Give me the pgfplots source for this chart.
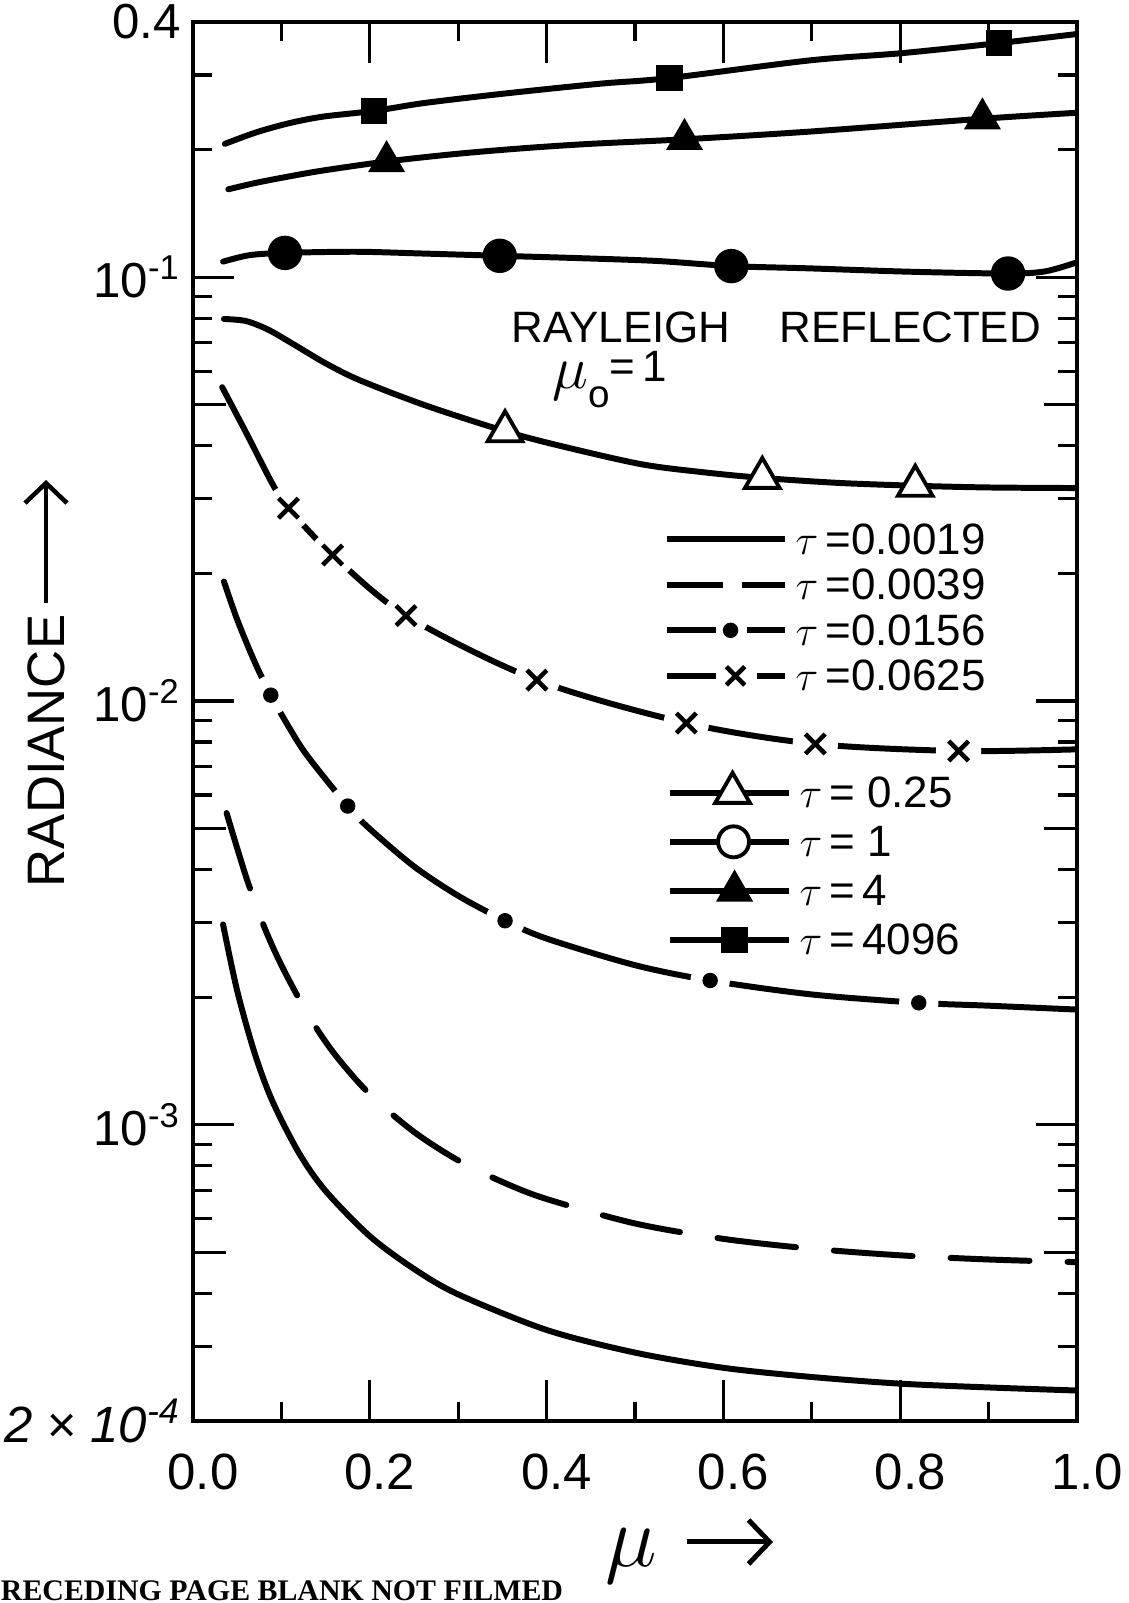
\documentclass[border=0pt]{standalone}
\usepackage{fontspec}
\setmainfont{Liberation Sans}
\newfontfamily\notefont{Liberation Serif}
\usepackage{pgfplots}
\pgfplotsset{compat=1.18}
\usetikzlibrary{arrows.meta}

\pgfplotsset{
  radcurve/.style={line width=1.7pt, line cap=round, smooth, forget plot},
}

\begin{document}
\begin{tikzpicture}
\useasboundingbox (0,0) rectangle (112.8mm,160.3mm);

\begin{axis}[
  at={(19.3mm,18.2mm)}, anchor=south west,
  scale only axis, width=88.4mm, height=139.9mm,
  xmin=0, xmax=1, ymin=2e-4, ymax=0.4, ymode=log,
  legend style={at={(0.5323,0.6438)}, anchor=north west, draw=none, fill=none,
    inner sep=0pt, outer sep=0pt, column sep=0.8mm, row sep=0.75mm,
    font=\fontsize{12.5}{12.5}\selectfont,
    nodes={inner sep=0pt, text height=3.4mm, text depth=0.4mm}},
  legend cell align=left,
  axis line style={line width=1.3pt},
  tick align=inside,
  major tick length=4.1mm, minor tick length=1.9mm,
  every tick/.style={black, line width=0.9pt},
  xtick={0,0.2,0.4,0.6,0.8,1},
  xticklabels={0.0,0.2,0.4,0.6,0.8,1.0},
  minor xtick={0.1,0.3,0.5,0.7,0.9},
  ytick={1e-3,1e-2,1e-1},
  yticklabels={10\textsuperscript{-3},10\textsuperscript{-2},10\textsuperscript{-1}},
  minor ytick={3e-4,4e-4,6e-4,7e-4,8e-4,9e-4,
               2e-3,3e-3,4e-3,6e-3,7e-3,8e-3,9e-3,
               2e-2,3e-2,4e-2,6e-2,7e-2,8e-2,9e-2,0.2,0.3},
  extra y ticks={5e-4,5e-3,5e-2,2e-4,0.4},
  extra y tick labels={,,,{\fontsize{14.5}{14.5}\selectfont\itshape 2 × 10\textsuperscript{-4}},0.4},
  extra y tick style={major tick length=3.3mm},
  xticklabel style={font=\fontsize{14.5}{14.5}\selectfont, yshift=-2.0mm, xshift=1mm},
  yticklabel style={font=\fontsize{14}{14}\selectfont},
]

% tau = 0.0019
\addplot[radcurve] coordinates {
 (0.034,0.00297) (0.050,0.00207) (0.070,0.00147) (0.090,0.001135)
 (0.120,0.000857) (0.150,0.000698) (0.200,0.000546) (0.250,0.000457)
 (0.300,0.000398) (0.400,0.000328) (0.500,0.000290) (0.600,0.000267)
 (0.700,0.000254) (0.800,0.000245) (0.900,0.000240) (1.000,0.000236)};

% tau = 0.0039
\addplot[radcurve, dash pattern=on 7.9mm off 3.8mm] coordinates {
 (0.038,0.00544) (0.060,0.00385) (0.080,0.00295) (0.100,0.00238)
 (0.130,0.00182) (0.160,0.00147) (0.200,0.00118) (0.250,0.000962)
 (0.300,0.000824) (0.350,0.000733) (0.400,0.000668) (0.500,0.000585)
 (0.600,0.000538) (0.700,0.000510) (0.800,0.000492) (0.900,0.000481)
 (1.000,0.000474)};

% tau = 0.0156
\addplot[radcurve] coordinates {
 (0.035,0.01914) (0.050,0.01556) (0.070,0.01233) (0.088,0.01032)
 (0.110,0.00857) (0.130,0.00739) (0.175,0.00565) (0.200,0.00499)
 (0.250,0.00407) (0.300,0.00347) (0.353,0.00303) (0.400,0.00275)
 (0.500,0.00238) (0.585,0.00219) (0.700,0.00203) (0.821,0.00194)
 (0.900,0.00191) (1.000,0.00187)};
\addplot[only marks, mark=*, mark size=1.9mm, white, forget plot] coordinates {
 (0.088,0.01032) (0.175,0.00565) (0.353,0.00303) (0.585,0.00219) (0.821,0.00194)};
\addplot[only marks, mark=*, mark size=0.7mm, black, forget plot] coordinates {
 (0.088,0.01032) (0.175,0.00565) (0.353,0.00303) (0.585,0.00219) (0.821,0.00194)};

% tau = 0.0625
\addplot[radcurve] coordinates {
 (0.033,0.0550) (0.061,0.0426) (0.090,0.0325) (0.108,0.0285)
 (0.158,0.0221) (0.241,0.0159) (0.389,0.0112) (0.558,0.00887)
 (0.704,0.00792) (0.866,0.00762) (1.000,0.00769)};
\addplot[only marks, mark=*, mark size=2.2mm, white, forget plot] coordinates {
 (0.108,0.0285) (0.158,0.0221) (0.241,0.0159) (0.389,0.0112)
 (0.558,0.00887) (0.704,0.00792) (0.866,0.00762)};
\addplot[only marks, mark=x, mark size=1.4mm, black, mark options={line width=1.3pt}, forget plot] coordinates {
 (0.108,0.0285) (0.158,0.0221) (0.241,0.0159) (0.389,0.0112)
 (0.558,0.00887) (0.704,0.00792) (0.866,0.00762)};

% tau = 0.25
\addplot[radcurve] coordinates {
 (0.035,0.0797) (0.060,0.0788) (0.085,0.0752) (0.112,0.0698)
 (0.149,0.0628) (0.188,0.0572) (0.262,0.0499) (0.353,0.0433)
 (0.413,0.0401) (0.507,0.0362) (0.580,0.0346) (0.644,0.0336)
 (0.730,0.0327) (0.817,0.0322) (0.900,0.0319) (1.000,0.0318)};
\addplot[only marks, mark=triangle*, mark size=2mm, black, mark options={fill=white, line width=1.1pt}, forget plot] coordinates {
 (0.353,0.0433) (0.644,0.0336) (0.817,0.0322)};

% tau = 1
\addplot[radcurve] coordinates {
 (0.034,0.1088) (0.064,0.1127) (0.104,0.1141) (0.185,0.1148)
 (0.260,0.1137) (0.347,0.1123) (0.430,0.1110) (0.525,0.1092)
 (0.609,0.1062) (0.697,0.1049) (0.811,0.1030) (0.922,0.1020)
 (0.964,0.1032) (1.000,0.1084)};
\addplot[only marks, mark=*, mark size=1.65mm, black, forget plot] coordinates {
 (0.104,0.1141) (0.347,0.1123) (0.609,0.1062) (0.922,0.1020)};

% tau = 4
\addplot[radcurve] coordinates {
 (0.040,0.1612) (0.072,0.1671) (0.109,0.1729) (0.147,0.1785)
 (0.219,0.1875) (0.298,0.1954) (0.374,0.2015) (0.449,0.2063)
 (0.556,0.2115) (0.697,0.2205) (0.893,0.2365) (1.000,0.2443)};
\addplot[only marks, mark=triangle*, mark size=2mm, black, forget plot] coordinates {
 (0.219,0.1875) (0.556,0.2115) (0.893,0.2365)};

% tau = 4096
\addplot[radcurve] coordinates {
 (0.036,0.2063) (0.072,0.2198) (0.109,0.2309) (0.147,0.2392)
 (0.205,0.2468) (0.260,0.2573) (0.336,0.2688) (0.411,0.2794)
 (0.468,0.2870) (0.539,0.2950) (0.697,0.3246) (0.802,0.3378)
 (0.912,0.3568) (1.000,0.3748)};
\addplot[only marks, mark=square*, mark size=1.25mm, black, forget plot] coordinates {
 (0.205,0.2468) (0.539,0.2950) (0.912,0.3568)};

% key, first group
\addlegendimage{black, legend image code/.code={
  \draw[black, line width=1.7pt] (0mm,0mm) -- (11.8mm,0mm);}}
\addlegendentry{$\tau$\,=0.0019}
\addlegendimage{black, legend image code/.code={
  \draw[black, line width=1.7pt] (0mm,0mm) -- (5.6mm,0mm) (7.5mm,0mm) -- (11.8mm,0mm);}}
\addlegendentry{$\tau$\,=0.0039}
\addlegendimage{black, legend image code/.code={
  \draw[black, line width=1.7pt] (0mm,0mm) -- (4.9mm,0mm) (8mm,0mm) -- (11.8mm,0mm);
  \fill[black, overlay] (6.4mm,0mm) circle[radius=0.7mm];}}
\addlegendentry{$\tau$\,=0.0156}
\addlegendimage{black, legend image code/.code={
  \draw[black, line width=1.7pt] (0mm,0mm) -- (4.9mm,0mm) (9mm,0mm) -- (11.8mm,0mm);
  \draw[black, line width=1.3pt, overlay] plot[mark=x, mark size=1.3mm] coordinates {(6.9mm,0mm)};}}
\addlegendentry{$\tau$\,=0.0625}
\end{axis}

% key, second group
\begin{axis}[
  at={(19.3mm,18.2mm)}, anchor=south west,
  scale only axis, width=88.4mm, height=139.9mm,
  xmin=0, xmax=1, ymin=2e-4, ymax=0.4, ymode=log,
  hide axis,
  legend style={at={(0.5357,0.4626)}, anchor=north west, draw=none, fill=none,
    inner sep=0pt, outer sep=0pt, column sep=0.8mm, row sep=1.1mm,
    font=\fontsize{12.5}{12.5}\selectfont,
    nodes={inner sep=0pt, text height=3.4mm, text depth=0.4mm}},
  legend cell align=left,
]
\addlegendimage{black, legend image code/.code={
  \draw[black, line width=1.7pt] (0mm,0mm) -- (11.9mm,0mm);
  \draw[black, line width=1.1pt, overlay] plot[mark=triangle*, mark size=2mm, mark options={fill=white}] coordinates {(6.3mm,0mm)};}}
\addlegendentry{$\tau$\,= 0.25}
\addlegendimage{black, legend image code/.code={
  \draw[black, line width=1.7pt] (0mm,0mm) -- (11.9mm,0mm);
  \draw[black, line width=1.1pt, overlay] plot[mark=*, mark size=1.55mm, mark options={fill=white}] coordinates {(6.4mm,0mm)};}}
\addlegendentry{$\tau$\,= 1}
\addlegendimage{black, legend image code/.code={
  \draw[black, line width=1.7pt] (0mm,0mm) -- (11.9mm,0mm);
  \draw[black, overlay] plot[mark=triangle*, mark size=2mm] coordinates {(6.5mm,0mm)};}}
\addlegendentry{$\tau$\,=\,4}
\addlegendimage{black, legend image code/.code={
  \draw[black, line width=1.7pt] (0mm,0mm) -- (11.9mm,0mm);
  \draw[black, overlay] plot[mark=square*, mark size=1.25mm] coordinates {(6.5mm,0mm)};}}
\addlegendentry{$\tau$\,=\,4096}
\end{axis}

% annotations
\node[anchor=base west, inner sep=0pt, font=\fontsize{12.5}{12.5}\selectfont] at (51.1mm,126.0mm) {RAYLEIGH};
\node[anchor=base west, inner sep=0pt, font=\fontsize{12.5}{12.5}\selectfont] at (77.9mm,126.0mm) {REFLECTED};
\node[anchor=base west, inner sep=0pt, font=\fontsize{12.5}{12.5}\selectfont] at (55.2mm,121.4mm)
  {{\fontsize{19}{19}\selectfont$\mu$}\raisebox{-1.9mm}{\fontsize{11}{11}\selectfont o}\raisebox{0.7mm}{=\,1}};

% axis titles
\node[rotate=90, inner sep=0pt, font=\fontsize{15}{15}\selectfont] at (4.6mm,85.2mm) {RADIANCE};
\draw[line width=0.45mm, -{Straight Barb[length=2mm,width=4.2mm]}] (4.6mm,100.0mm) -- (4.6mm,112.3mm);
\node[anchor=base west, inner sep=0pt] at (60.5mm,3.6mm) {\fontsize{28}{28}\selectfont$\mu$};
\draw[line width=0.5mm, -{Straight Barb[length=2.1mm,width=4.4mm]}] (68.7mm,6.1mm) -- (77.3mm,6.1mm);

% page note
\node[anchor=base west, inner sep=0pt, font=\notefont\bfseries\fontsize{8.5}{8.5}\selectfont] at (-1.8mm,0.3mm) {PRECEDING PAGE BLANK NOT FILMED};
\end{tikzpicture}
\end{document}
